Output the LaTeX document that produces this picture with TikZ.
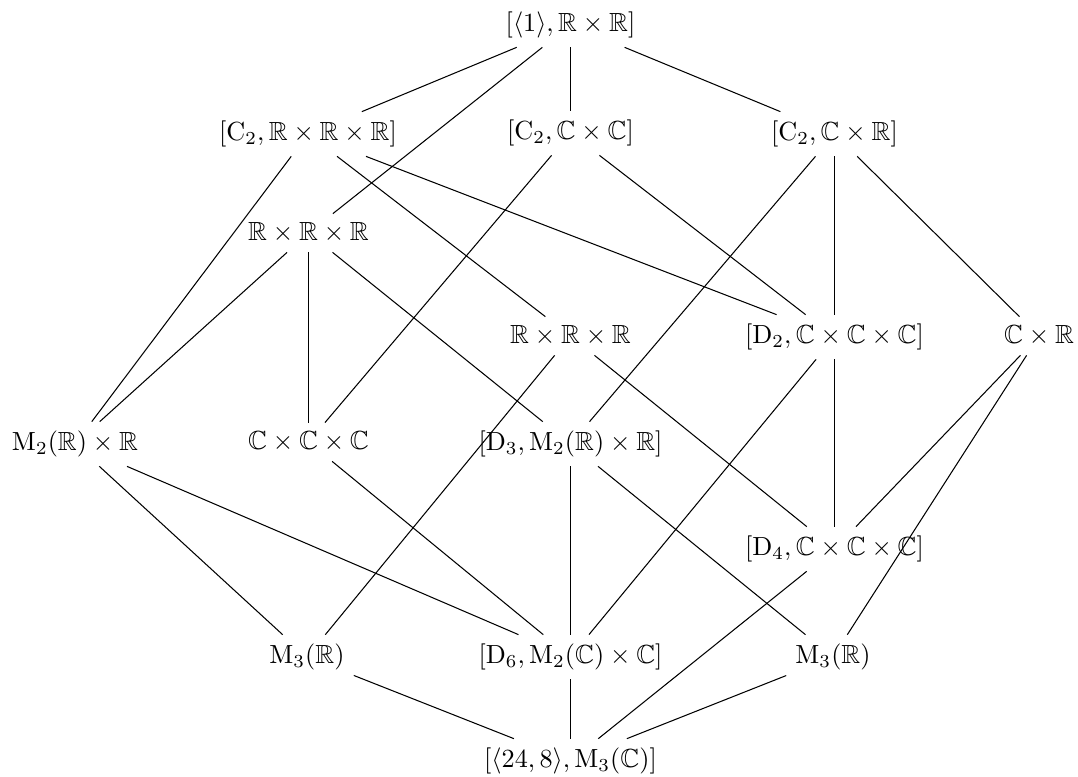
\documentclass[tikz,border=0pt]{standalone}
\usepackage{amsmath,amssymb}
\begin{document}
\begin{tikzpicture}[x=0.3817pt,y=-0.3817pt,
  lat/.style={inner sep=0.3333em},
  ln/.style={draw=black,line width=0.4pt}]
\useasboundingbox (0,0) rectangle (1078,776);
\node[lat] (top) at (570.5,25) {$[\langle 1\rangle,\mathbb{R}\times\mathbb{R}]$};
\node[lat] (A) at (308,134) {$[\mathrm{C}_2,\mathbb{R}\times\mathbb{R}\times\mathbb{R}]$};
\node[lat] (B) at (570.5,133) {$[\mathrm{C}_2,\mathbb{C}\times\mathbb{C}]$};
\node[lat] (C) at (834.5,134) {$[\mathrm{C}_2,\mathbb{C}\times\mathbb{R}]$};
\node[lat] (D) at (308.5,233) {$\mathbb{R}\times\mathbb{R}\times\mathbb{R}$};
\node[lat] (E) at (570.5,336) {$\mathbb{R}\times\mathbb{R}\times\mathbb{R}$};
\node[lat] (F) at (834.5,337) {$[\mathrm{D}_2,\mathbb{C}\times\mathbb{C}\times\mathbb{C}]$};
\node[lat] (G) at (1039,336) {$\mathbb{C}\times\mathbb{R}$};
\node[lat] (H) at (75,444) {$\mathrm{M}_2(\mathbb{R})\times\mathbb{R}$};
\node[lat] (I) at (308.5,442) {$\mathbb{C}\times\mathbb{C}\times\mathbb{C}$};
\node[lat] (J) at (570.5,444) {$[\mathrm{D}_3,\mathrm{M}_2(\mathbb{R})\times\mathbb{R}]$};
\node[lat] (K) at (834.5,549) {$[\mathrm{D}_4,\mathbb{C}\times\mathbb{C}\times\mathbb{C}]$};
\node[lat] (L) at (307,657) {$\mathrm{M}_3(\mathbb{R})$};
\node[lat] (M) at (570.5,657) {$[\mathrm{D}_6,\mathrm{M}_2(\mathbb{C})\times\mathbb{C}]$};
\node[lat] (N) at (833,657) {$\mathrm{M}_3(\mathbb{R})$};
\node[lat] (bot) at (570.5,761) {$[\langle 24,8\rangle,\mathrm{M}_3(\mathbb{C})]$};
\foreach \a/\b in {top/A,top/B,top/C,top/D,
  A/H,A/E,A/F,B/I,B/F,C/J,C/F,C/G,
  D/H,D/I,D/J,E/L,E/K,F/M,F/K,G/K,G/N,
  H/L,H/M,I/M,J/M,J/N,K/bot,L/bot,M/bot,N/bot}
  \draw[ln] (\a) -- (\b);
\end{tikzpicture}
\end{document}
